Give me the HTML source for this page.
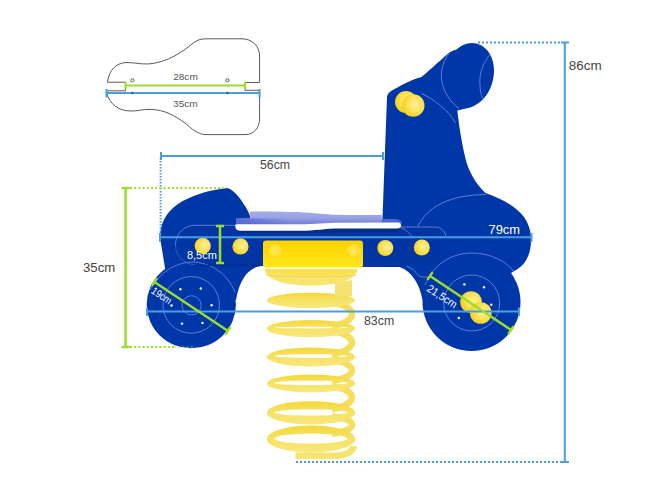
<!DOCTYPE html>
<html><head><meta charset="utf-8">
<style>
html,body{margin:0;padding:0;background:#fff;width:667px;height:500px;overflow:hidden}
svg{display:block}
text{font-family:"Liberation Sans",sans-serif}
</style></head>
<body>
<svg width="667" height="500" viewBox="0 0 667 500">
<defs>
<radialGradient id="knob" cx="0.6" cy="0.45" r="0.6">
<stop offset="0" stop-color="#fdf09a"/><stop offset="0.55" stop-color="#fbe25a"/><stop offset="1" stop-color="#f4cf18"/>
</radialGradient>
<linearGradient id="brk" x1="0" y1="0" x2="0" y2="1">
<stop offset="0" stop-color="#fbd300"/><stop offset="1" stop-color="#ffe61a"/>
</linearGradient>
<linearGradient id="seatfront" x1="0" y1="0" x2="1" y2="0">
<stop offset="0" stop-color="#4f63d4"/><stop offset="0.3" stop-color="#8d98e2"/><stop offset="1" stop-color="#a9b1ea"/>
</linearGradient>
<radialGradient id="bolt" cx="0.55" cy="0.45" r="0.6"><stop offset="0" stop-color="#ffea60"/><stop offset="0.7" stop-color="#fde030"/><stop offset="1" stop-color="#f4d000"/></radialGradient>
<linearGradient id="seattop" x1="0" y1="0" x2="0" y2="1"><stop offset="0" stop-color="#a4ace8"/><stop offset="0.45" stop-color="#98a1e4"/><stop offset="1" stop-color="#6373d6"/></linearGradient>
<linearGradient id="seatside" x1="0" y1="0" x2="1" y2="0"><stop offset="0" stop-color="#4a5ed2"/><stop offset="1" stop-color="#4a5ed2" stop-opacity="0"/></linearGradient>
<linearGradient id="coil" x1="0" y1="0" x2="0" y2="1"><stop offset="0" stop-color="#f2d838"/><stop offset="0.45" stop-color="#f6e262"/><stop offset="1" stop-color="#f7e77e"/></linearGradient>
</defs>
<rect width="667" height="500" fill="#fff"/>

<!-- seat outline diagram -->
<g fill="none" stroke="#5a5a5a" stroke-width="1">
<path d="M107.5,82.2 C109,70 116,63 126,62.6 C136,62.5 140,64.5 150,63.8 C168,62 182,52 192,44 C196,40.5 200,38.8 206,38.8 L242,38.8 C252,38.8 259.6,46 259.6,56 L259.6,82.5 L245,82.5"/>
<path d="M107.5,82.2 L125.5,82.2 L125.5,90.8 L107,90.8"/>
<path d="M245,82.5 L245,90.3 L259.6,90.3"/>
<path d="M106.5,93 C110,104 118,111 131,111 C138,111 142,109.4 150,109.4 C165,109.5 175,116 185,123 C192,129 198,134.6 206,134.6 L245,134.6 C254,134.6 259.6,128 259.6,118 L259.6,93"/>
<circle cx="132.4" cy="80.3" r="1.6"/>
<circle cx="227.5" cy="80.2" r="1.6"/>
</g>
<g stroke="#9bdc2c" stroke-width="2.2" fill="none">
<path d="M125.5,85.5 L245,85.5 M125.5,81.8 L125.5,89.2 M245,81.8 L245,89.2"/>
</g>
<g stroke="#4a9ee0" stroke-width="2" fill="none">
<path d="M106.5,93 L259.5,93 M106.5,89 L106.5,97.5 M259.5,89 L259.5,97.5"/>
</g>
<circle cx="132.4" cy="93" r="1.2" fill="#2a5a8a"/><circle cx="227.5" cy="93" r="1.2" fill="#2a5a8a"/>
<text x="173.2" y="79.5" font-size="9.4" fill="#555" textLength="24.6" lengthAdjust="spacingAndGlyphs">28cm</text>
<text x="173" y="107" font-size="9.4" fill="#555" textLength="24.8" lengthAdjust="spacingAndGlyphs">35cm</text>

<!-- spring -->
<g>
<path d="M332,302.7 C346,304.2 352,310.2 352,314.2 C352,318.2 346,324.3 332,326.0" fill="none" stroke="#f4de5e" stroke-width="6.5"/>
<path d="M332,331.2 C346,332.9 352,338.6 352,342.6 C352,346.6 346,352.3 332,354.2" fill="none" stroke="#f4de5e" stroke-width="6.5"/>
<path d="M332,359.8 C346,361.7 352,366.4 352,370.4 C352,374.4 346,379.0 332,380.8" fill="none" stroke="#f4de5e" stroke-width="6.5"/>
<path d="M332,386.2 C346,388.0 352,393.4 352,397.4 C352,401.4 346,407.0 332,409.3" fill="none" stroke="#f4de5e" stroke-width="6.5"/>
<path d="M332,416.3 C346,418.6 352,420.8 352,424.8 C352,428.8 346,431.2 332,433.9" fill="none" stroke="#f4de5e" stroke-width="6.5"/>
<path fill-rule="evenodd" fill="url(#coil)" d="M266.7,300.4 a44.3,7.7 0 1,0 88.6,0 a44.3,7.7 0 1,0 -88.6,0 Z"/>
<path fill-rule="evenodd" fill="url(#coil)" d="M266.7,328.6 a44.3,8.6 0 1,0 88.6,0 a44.3,8.6 0 1,0 -88.6,0 Z M274.5,327.6 a36.5,0.8 0 1,0 73.0,0 a36.5,0.8 0 1,0 -73.0,0 Z"/>
<path fill-rule="evenodd" fill="url(#coil)" d="M266.7,357.0 a44.3,9.4 0 1,0 88.6,0 a44.3,9.4 0 1,0 -88.6,0 Z M274.5,356.0 a36.5,1.8 0 1,0 73.0,0 a36.5,1.8 0 1,0 -73.0,0 Z"/>
<path fill-rule="evenodd" fill="url(#coil)" d="M266.7,383.5 a44.3,9.0 0 1,0 88.6,0 a44.3,9.0 0 1,0 -88.6,0 Z M274.5,382.9 a36.5,2.2 0 1,0 73.0,0 a36.5,2.2 0 1,0 -73.0,0 Z"/>
<path fill-rule="evenodd" fill="url(#coil)" d="M266.7,412.8 a44.3,11.6 0 1,0 88.6,0 a44.3,11.6 0 1,0 -88.6,0 Z M274.5,412.4 a36.5,3.2 0 1,0 73.0,0 a36.5,3.2 0 1,0 -73.0,0 Z"/>
<path fill-rule="evenodd" fill="url(#coil)" d="M266.7,439.0 a44.3,13.6 0 1,0 88.6,0 a44.3,13.6 0 1,0 -88.6,0 Z M274.5,438.6 a36.5,5.0 0 1,0 73.0,0 a36.5,5.0 0 1,0 -73.0,0 Z"/>
<path d="M295.5,455.8 L336,455.8 C347,455.3 353,451 354,446" fill="none" stroke="#f6e370" stroke-width="6.5"/>
<path d="M265,269 L357.3,269 C357.3,279 340,285.5 311,285.5 C282,285.5 265,279 265,269 Z" fill="#f8e56e"/><path d="M266,275 C280,277.5 340,277.5 356,275" fill="none" stroke="#f0d64a" stroke-width="1"/><path d="M265,269 L357.3,269 L357,272 C340,275.5 282,275.5 265.5,272 Z" fill="#fbe04a"/>
<path d="M335,283 L352,280 L352,296 L335,297 Z" fill="#f6e270"/>
</g>
<!-- body silhouette -->
<g fill="#0037a8">
<path d="M160,237 C160,224 166,212 178,204 C190,196 208,190 227.5,188 C234,190 240,198 245,206 C248,211 250,215 250.5,218 L250,226 L382,226 L382,231 L387,97 Q387.5,92.5 392,90.5 C400,86 410,80 421.4,77 C430,70 436,64 441,60 C446,55 450,51 456,49.7 C462,45 466,43 472,42.9 C484,43 494,54 494,70 C494,88 484,105 466,108.6 L457.3,110.4 C459,125 462,146 467,164 C470,173 476,184 485,192.7 C500,198 516,206 524,217 C530,226 531,233 531,240 C531,255 525,266 514,271 L472,302 L422.5,300 C420,285 412,271 399.5,267 L262,266 C250,267 240,277 236,300 L191.5,305 L165.5,271 L160.6,241 C160.3,239 160,238 160,237 Z"/>
<ellipse cx="191.3" cy="304.5" rx="44.6" ry="43.8"/>
<circle cx="471.5" cy="302" r="49"/>
</g>
<path d="M195,225.2 L440,225.2 L440,264.5 L195,264.5 C184,264.5 175.5,256 175.5,245 C175.5,234 184,225.2 195,225.2 Z" fill="#0033a0" opacity="0.6"/>

<!-- thin light outlines -->
<g fill="none" stroke="#7d93ea" stroke-width="1" opacity="0.75">
<path d="M150,290 C160,272 175,263 191.5,262 C212,262 228,275 235,292"/>
<circle cx="191.2" cy="304.9" r="28.3"/>
<circle cx="191.6" cy="305.3" r="9.6"/>
<path d="M425,285 C432,266 450,253 472,253 C492,253 508,263 514,272"/>
<circle cx="471.7" cy="303" r="28"/>
<path d="M449.4,52.8 C442,62 440,75 442,82 C444,92 450,102 459,108.6"/>
<path d="M490.3,53.9 C482,64 479,75 480,85 C480,92 482,97 483.4,99.7"/>
<path d="M421.4,93.3 C435,100 448,110 455.5,123"/>
<path d="M418,226 C428,206 450,195 486,194.5"/>
<path d="M236,225.3 L195,225.3 C184,225.3 175.5,234 175.5,245"/><path d="M175.5,245 C175.5,256 184,264.5 195,264.5" opacity="0.5"/><path d="M195,265.3 L262,265.3 M362,266.3 L402,266.3" stroke="#002a85" stroke-width="1.2" opacity="1"/>
<path d="M399.5,227 L435,227 C440,227 444,230 446,236 M401,227.7 C406,230 410,233 411.5,236"/>
<path d="M406.3,266.2 C412,268 416,272 418.4,275.6 C421,277 425,277.5 428.5,277"/>
</g>
<g fill="#fff">
<circle cx="180.4" cy="289.2" r="1.2"/><circle cx="200.8" cy="288.5" r="1.2"/><circle cx="211.6" cy="305.3" r="1.2"/>
<circle cx="202.5" cy="322.9" r="1.2"/><circle cx="182" cy="323.6" r="1.2"/><circle cx="171.5" cy="305.5" r="1.2"/>
<circle cx="464.4" cy="284.4" r="1.2"/><circle cx="484" cy="287.3" r="1.2"/><circle cx="491.3" cy="304.8" r="1.2"/>
<circle cx="458.8" cy="318" r="1.2"/>
</g>

<!-- seat -->
<path fill="#0a2a80" d="M238,228 L398,226.5 C401,229 399,232 394,232.2 L238,232.8 Z" opacity="0.9"/>
<path fill="url(#seattop)" d="M236,218.5 L250.6,218.2 L249.6,211.6 C280,211.5 300,212 315,213.2 C330,214.5 340,215 360,215 L381.8,215 L381.8,219.3 L396,219.6 C400,220 402,221.5 401.5,223.5 L236,226 Z"/>
<path fill="url(#seatside)" d="M236,218.5 L290,218.6 L290,225 L236,225.5 Z" opacity="0.8"/>
<path fill="#5064d2" d="M381.8,219.3 L396,219.6 C400,220 402,221.5 401.5,223.5 L381.8,223.5 Z"/>
<path fill="#fff" d="M236,224.2 L300,224.3 C315,224.3 325,222.8 340,222.8 L398,222.6 C402,223 402.5,228 398,228.4 L340,228.4 C325,228.4 315,230.7 300,230.7 L240,230.7 C235,230.5 234.5,225.5 236,224.2 Z"/>

<!-- yellow parts -->
<rect x="263" y="240.5" width="100" height="27" rx="3" fill="url(#brk)"/>
<g fill="url(#bolt)"><circle cx="274.8" cy="251.3" r="7"/><circle cx="353" cy="251.3" r="7"/></g>
<g fill="url(#knob)">
<circle cx="202.7" cy="245.9" r="8.1"/><circle cx="240.5" cy="246.4" r="8.1"/>
<circle cx="385.3" cy="248" r="8"/><circle cx="421.8" cy="247.5" r="8"/>
<circle cx="406" cy="102" r="11"/><circle cx="413.2" cy="105.5" r="11.3"/>
<circle cx="471" cy="302" r="10.8"/><circle cx="480.8" cy="313" r="10.8"/>
</g>

<!-- dimension lines blue -->
<g stroke="#4a9ee0" stroke-width="2" fill="none">
<path d="M161,156 L383,156 M161,152 L161,160 M383,152 L383,160"/>
<path d="M160,237.3 L531.5,237.3 M160,233 L160,242 M531.5,233 L531.5,242"/>
<path d="M147,311.6 L519,311.6 M147,307.5 L147,316 M519,307.5 L519,316"/>
<path d="M564.8,42.5 L564.8,462 M561,42.5 L569,42.5 M560,462 L569,462"/>
</g>
<g stroke="#4a9ee0" stroke-width="2" fill="none" stroke-dasharray="2 2">
<path d="M160.6,158 L160.6,234" stroke-dasharray="1.6 1.4"/>
<path d="M478,42.5 L561,42.5"/>
<path d="M296,462 L560,462"/>
</g>
<!-- green dims -->
<g stroke="#9bdc2c" stroke-width="2.5" fill="none">
<path d="M125.6,188 L125.6,347 M121.7,188 L129.8,188 M121.7,347 L129.8,347"/>
<path d="M220,226 L220,263 M216,226 L224,226 M216,263 L224,263"/>
<path d="M154.4,282 L227.7,330.8 M151.8,285.9 L157,278.1 M225.1,334.7 L230.3,326.9"/>
<path d="M430,276 L511,330 M427.4,279.9 L432.6,272.1 M508.4,333.9 L513.6,326.1"/>
</g>
<g stroke="#9bdc2c" stroke-width="2" fill="none" stroke-dasharray="2 2.2">
<path d="M130,188 L225,188"/>
<path d="M130,347 L174,347"/><path d="M174,347 L195,347" opacity="0.45"/>
</g>

<!-- labels -->
<g fill="#444" font-size="12">
<text x="260" y="169" textLength="30" lengthAdjust="spacingAndGlyphs">56cm</text>
<text x="364" y="325.2" textLength="30.2" lengthAdjust="spacingAndGlyphs">83cm</text>
<text x="83" y="272" font-size="13" textLength="32.2" lengthAdjust="spacingAndGlyphs">35cm</text>
<text x="568.8" y="70" font-size="13" textLength="33" lengthAdjust="spacingAndGlyphs">86cm</text>
</g>
<g fill="#fff" font-size="12">
<text x="488.5" y="234" textLength="31.5" lengthAdjust="spacingAndGlyphs">79cm</text>
<text x="186.9" y="259.4" font-size="11">8,5cm</text>
<text x="0" y="0" font-size="10.5" transform="translate(150.5,292.5) rotate(34)" textLength="22" lengthAdjust="spacingAndGlyphs">19cm</text>
<text x="0" y="0" font-size="11" transform="translate(426,290.5) rotate(33)" textLength="33.5" lengthAdjust="spacingAndGlyphs">21,5cm</text>
</g>
</svg>
</body></html>
